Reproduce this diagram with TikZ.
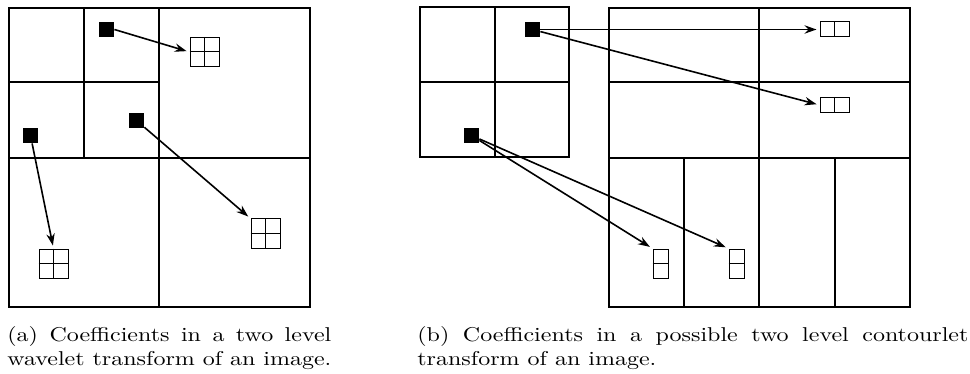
\documentclass[tikz,border=0pt]{standalone}
\usepackage{graphicx}
\usetikzlibrary{arrows.meta}
\begin{document}
\begin{tikzpicture}[x=0.5pt,y=-0.5pt,
  band/.style={line width=1pt},
  coef/.style={fill=black,inner sep=0pt,minimum size=7.5pt},
  quad/.style={draw,line width=0.5pt,inner sep=0pt,minimum size=14.5pt},
  hpair/.style={draw,line width=0.5pt,inner sep=0pt,minimum width=14.5pt,minimum height=7.5pt},
  vpair/.style={draw,line width=0.5pt,inner sep=0pt,minimum width=7.5pt,minimum height=14.5pt},
  link/.style={-{Stealth[length=6pt,width=4.2pt,inset=2pt]},line width=0.8pt,shorten >=1.5pt},
  subcap/.style={inner sep=0pt,anchor=north west,font=\fontsize{10}{12}\selectfont}]
\useasboundingbox (0,0) rectangle (970,374);

% wavelet subbands
\draw[band] (9,8) rectangle (310,307);
\draw[band] (159,8) -- (159,307) (9,158) -- (310,158);
\draw[band] (84,8) -- (84,158) (9,82) -- (159,82);

% wavelet coefficients and children
\node[coef] (wa) at (106.5,29.5) {};
\node[coef] (wb) at (136.5,120.5) {};
\node[coef] (wc) at (30.5,135.5) {};
\node[quad] (qa) at (204.5,52) {};
\node[quad] (qb) at (265.5,233.5) {};
\node[quad] (qc) at (53.5,263.5) {};
\foreach \q in {qa,qb,qc}
  \draw[line width=0.5pt] (\q.north) -- (\q.south) (\q.west) -- (\q.east);

\draw[link] (wa.east) -- (qa.west);
\draw[link] (wb) -- (qb.north west);
\draw[link] (wc) -- (qc.north);

% contourlet subbands
\draw[band] (420,7) rectangle (569,157);
\draw[band] (495,7) -- (495,157) (420,82) -- (569,82);
\draw[band] (609,8) rectangle (910,307);
\draw[band] (759,8) -- (759,307) (609,82) -- (910,82) (609,158) -- (910,158);
\foreach \x in {684,835}
  \draw[band] (\x,158) -- (\x,307);

% contourlet coefficients and children
\node[coef] (ca) at (532.5,29.5) {};
\node[coef] (cb) at (471.5,135.5) {};
\node[hpair] (ha) at (834.5,29.5) {};
\node[hpair] (hb) at (834.5,105) {};
\node[vpair] (va) at (660.5,263.5) {};
\node[vpair] (vb) at (736.5,263.5) {};
\foreach \h in {ha,hb}
  \draw[line width=0.5pt] (\h.north) -- (\h.south);
\foreach \v in {va,vb}
  \draw[line width=0.5pt] (\v.west) -- (\v.east);

\draw[link] (ca.east) -- (ha.west);
\draw[link] (ca) -- (hb.west);
\draw[link] (cb) -- (va.north west);
\draw[link] (cb) -- (vb.north west);

% captions
\node[subcap] (capa) at (7,326)
  {\scalebox{1.2}[1]{\parbox[t]{135pt}{(a) Coefficients in a two level wavelet transform of an image.}}};
\node[subcap] (capb) at (417,326)
  {\scalebox{1.2}[1]{\parbox[t]{229.6pt}{(b) Coefficients in a possible two level contourlet transform of an image.}}};

\end{tikzpicture}
\end{document}
